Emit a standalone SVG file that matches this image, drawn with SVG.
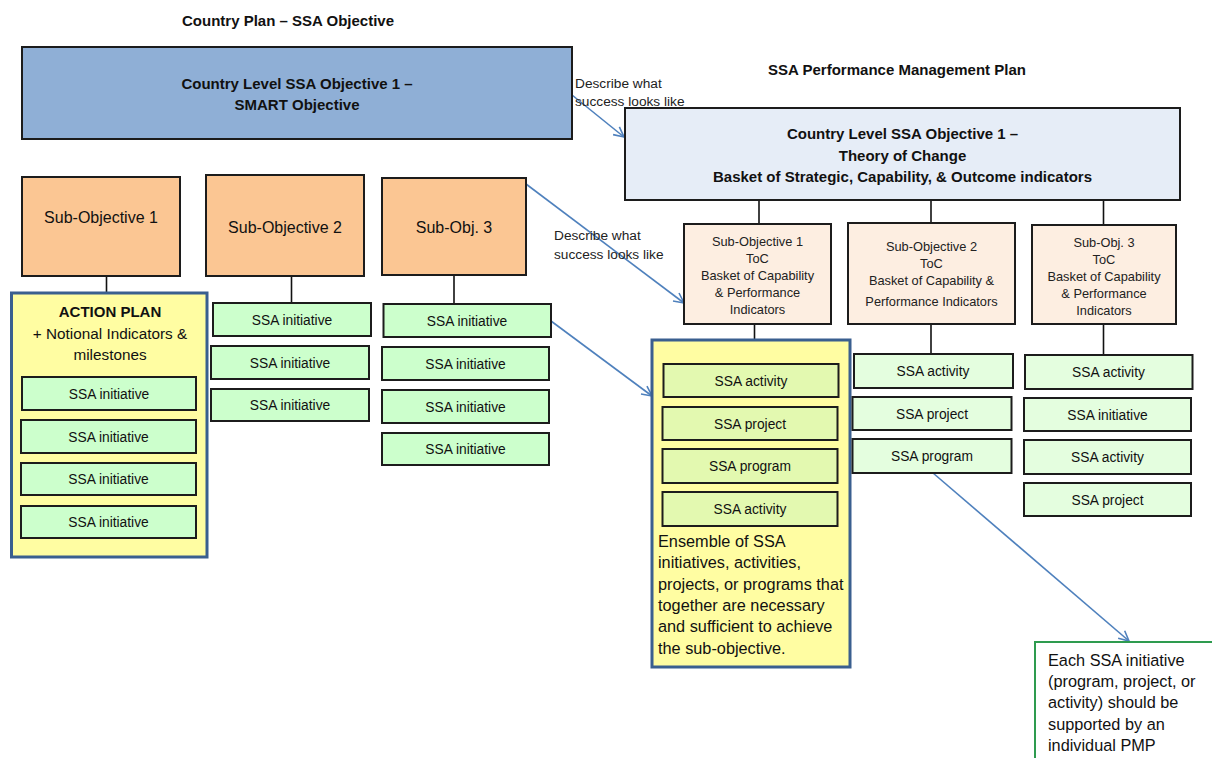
<svg xmlns="http://www.w3.org/2000/svg" width="1212" height="758" viewBox="0 0 1212 758">
<defs>
<marker id="arr" viewBox="0 0 12 12" refX="11" refY="6" markerWidth="12" markerHeight="12" markerUnits="userSpaceOnUse" orient="auto">
<path d="M1,1 L11,6 L1,11" fill="none" stroke="#4F81BD" stroke-width="1.6"/>
</marker>
<style>
text{font-family:"Liberation Sans",Arial,sans-serif;fill:#111}
.t{font-size:15px;font-weight:bold;text-anchor:middle}
.d{font-size:13.7px;fill:#222}
.box{stroke:#1c1c1c;stroke-width:2}
.blue{fill:#8FAFD6}
.org{fill:#FBC693}
.toc{fill:#E6EDF7}
.sub{fill:#FDEEE1}
.yel{fill:#FFFDA2;stroke:#3A5F8F;stroke-width:3}
.g1{fill:#CCFFCC}
.g2{fill:#E3F9B0}
.g3{fill:#E4FEDF}
.st{font-size:13.8px;text-anchor:middle}
.ob{font-size:16px;text-anchor:middle}
.sm{font-size:12.8px;text-anchor:middle;fill:#222}
.big{font-size:16.3px}
.con{stroke:#111;stroke-width:1.6;fill:none}
.arw{stroke:#4F81BD;stroke-width:1.6;fill:none;marker-end:url(#arr)}
</style>
</defs>
<rect width="1212" height="758" fill="#fff"/>

<g id="titles">
<text class="t" x="288" y="26">Country Plan – SSA Objective</text>
<text class="t" x="897" y="75">SSA Performance Management Plan</text>
</g>

<g id="connectors">
<line class="con" x1="106.5" y1="276" x2="106.5" y2="293"/>
<line class="con" x1="291.5" y1="276" x2="291.5" y2="303"/>
<line class="con" x1="454" y1="275" x2="454" y2="304"/>
<line class="con" x1="759" y1="200" x2="759" y2="224"/>
<line class="con" x1="931" y1="200" x2="931" y2="223"/>
<line class="con" x1="1103.5" y1="200" x2="1103.5" y2="225"/>
<line class="con" x1="754.5" y1="324" x2="754.5" y2="340"/>
<line class="con" x1="931" y1="324" x2="931" y2="354"/>
<line class="con" x1="1103.5" y1="324" x2="1103.5" y2="355"/>
<line class="arw" x1="572" y1="95" x2="624" y2="137"/>
<line class="arw" x1="526" y1="184" x2="684" y2="303"/>
<line class="arw" x1="551" y1="321" x2="652" y2="396"/>
<line class="arw" x1="933" y1="473" x2="1129" y2="641"/>
<text class="d" x="575" y="87.5">Describe what</text>
<text class="d" x="575" y="106">success looks like</text>
<text class="d" x="554" y="240">Describe what</text>
<text class="d" x="554" y="258.7">success looks like</text>
</g>

<g id="country-objective">
<rect class="box blue" x="22" y="47" width="550" height="92"/>
<text class="t" x="297" y="88.5">Country Level SSA Objective 1 –</text>
<text class="t" x="297" y="109.5">SMART Objective</text>
</g>

<g id="sub-objective-1">
<rect class="box org" x="22" y="177" width="158" height="99"/>
<text class="ob" x="101" y="222.5">Sub-Objective 1</text>
</g>
<g id="sub-objective-2">
<rect class="box org" x="206" y="175" width="158" height="101"/>
<text class="ob" x="285" y="233">Sub-Objective 2</text>
</g>
<g id="sub-objective-3">
<rect class="box org" x="382" y="178" width="144" height="97"/>
<text class="ob" x="454" y="233">Sub-Obj. 3</text>
</g>

<g id="action-plan">
<rect class="yel" x="11.5" y="293" width="195.5" height="264"/>
<text class="t" x="110" y="317">ACTION PLAN</text>
<text x="110" y="338.5" style="font-size:15.3px;text-anchor:middle">+ Notional Indicators &amp;</text>
<text x="110" y="360" style="font-size:15.3px;text-anchor:middle">milestones</text>
<rect class="box g1" x="22" y="377" width="174" height="33"/>
<text class="st" x="109" y="398.5">SSA initiative</text>
<rect class="box g1" x="21" y="420" width="175" height="33"/>
<text class="st" x="108.5" y="441.5">SSA initiative</text>
<rect class="box g1" x="21" y="463" width="175" height="32"/>
<text class="st" x="108.5" y="484">SSA initiative</text>
<rect class="box g1" x="21" y="506" width="175" height="32"/>
<text class="st" x="108.5" y="527">SSA initiative</text>
</g>

<g id="col2-initiatives">
<rect class="box g1" x="213" y="303" width="158" height="33"/>
<text class="st" x="292" y="324.5">SSA initiative</text>
<rect class="box g1" x="211" y="346" width="158" height="33"/>
<text class="st" x="290" y="367.5">SSA initiative</text>
<rect class="box g1" x="211" y="389" width="158" height="32"/>
<text class="st" x="290" y="410">SSA initiative</text>
</g>

<g id="col3-initiatives">
<rect class="box g1" x="383.5" y="304" width="167.5" height="33"/>
<text class="st" x="467" y="325.5">SSA initiative</text>
<rect class="box g1" x="382" y="347" width="167" height="33"/>
<text class="st" x="465.5" y="368.5">SSA initiative</text>
<rect class="box g1" x="382" y="390" width="167" height="33"/>
<text class="st" x="465.5" y="411.5">SSA initiative</text>
<rect class="box g1" x="382" y="433" width="167" height="32"/>
<text class="st" x="465.5" y="454">SSA initiative</text>
</g>

<g id="toc-objective">
<rect class="box toc" x="625" y="108" width="555" height="92"/>
<text class="t" x="902.5" y="139.3">Country Level SSA Objective 1 –</text>
<text class="t" x="902.5" y="161.3">Theory of Change</text>
<text class="t" x="902.5" y="182.3">Basket of Strategic, Capability,  &amp; Outcome indicators</text>
</g>

<g id="toc-sub-1">
<rect class="box sub" x="684" y="224" width="147" height="100"/>
<text class="sm" x="757.5" y="245.5">Sub-Objective 1</text>
<text class="sm" x="757.5" y="262.5">ToC</text>
<text class="sm" x="757.5" y="279.5">Basket of Capability</text>
<text class="sm" x="757.5" y="296.5">&amp; Performance</text>
<text class="sm" x="757.5" y="313.5">Indicators</text>
</g>
<g id="toc-sub-2">
<rect class="box sub" x="848" y="223" width="167" height="101"/>
<text class="sm" x="931.5" y="250.5">Sub-Objective 2</text>
<text class="sm" x="931.5" y="267.5">ToC</text>
<text class="sm" x="931.5" y="284.5">Basket of Capability &amp;</text>
<text class="sm" x="931.5" y="305.5">Performance Indicators</text>
</g>
<g id="toc-sub-3">
<rect class="box sub" x="1032" y="225" width="144" height="99"/>
<text class="sm" x="1104" y="246.5">Sub-Obj. 3</text>
<text class="sm" x="1104" y="263.5">ToC</text>
<text class="sm" x="1104" y="280.5">Basket of Capability</text>
<text class="sm" x="1104" y="297.5">&amp; Performance</text>
<text class="sm" x="1104" y="314.5">Indicators</text>
</g>

<g id="ensemble">
<rect class="yel" x="652" y="340" width="198" height="327"/>
<rect class="box g2" x="663.5" y="364" width="175" height="33"/>
<text class="st" x="751" y="385.5">SSA activity</text>
<rect class="box g2" x="662.5" y="407" width="175" height="33"/>
<text class="st" x="750" y="428.5">SSA project</text>
<rect class="box g2" x="662.5" y="449" width="175" height="34"/>
<text class="st" x="750" y="471">SSA program</text>
<rect class="box g2" x="662.5" y="492" width="175" height="34"/>
<text class="st" x="750" y="514">SSA activity</text>
<text class="big" x="658" y="546.6">Ensemble of SSA</text>
<text class="big" x="658" y="568.3">initiatives, activities,</text>
<text class="big" x="658" y="589.6">projects, or programs that</text>
<text class="big" x="658" y="611.3">together are necessary</text>
<text class="big" x="658" y="632.3">and sufficient to achieve</text>
<text class="big" x="658" y="653.6">the sub-objective.</text>
</g>

<g id="pmp-col2">
<rect class="box g3" x="854" y="354" width="159" height="34"/>
<text class="st" x="933" y="376">SSA activity</text>
<rect class="box g3" x="852.5" y="397" width="159" height="33"/>
<text class="st" x="932" y="418.5">SSA project</text>
<rect class="box g3" x="852.5" y="439" width="159" height="34"/>
<text class="st" x="932" y="461">SSA program</text>
</g>

<g id="pmp-col3">
<rect class="box g3" x="1025" y="355" width="167.5" height="34"/>
<text class="st" x="1108.5" y="377">SSA activity</text>
<rect class="box g3" x="1024" y="398" width="167" height="33"/>
<text class="st" x="1107.5" y="419.5">SSA initiative</text>
<rect class="box g3" x="1024" y="440" width="167" height="34"/>
<text class="st" x="1107.5" y="462">SSA activity</text>
<rect class="box g3" x="1024" y="483" width="167" height="33"/>
<text class="st" x="1107.5" y="504.5">SSA project</text>
</g>

<g id="pmp-note">
<rect x="1035" y="642" width="190" height="130" fill="#fff" stroke="#2E9B4F" stroke-width="2"/>
<text class="big" x="1048" y="665.6">Each SSA initiative</text>
<text class="big" x="1048" y="686.6">(program, project, or</text>
<text class="big" x="1048" y="707.6">activity) should be</text>
<text class="big" x="1048" y="729.6">supported by an</text>
<text class="big" x="1048" y="750.6">individual PMP</text>
</g>
</svg>
